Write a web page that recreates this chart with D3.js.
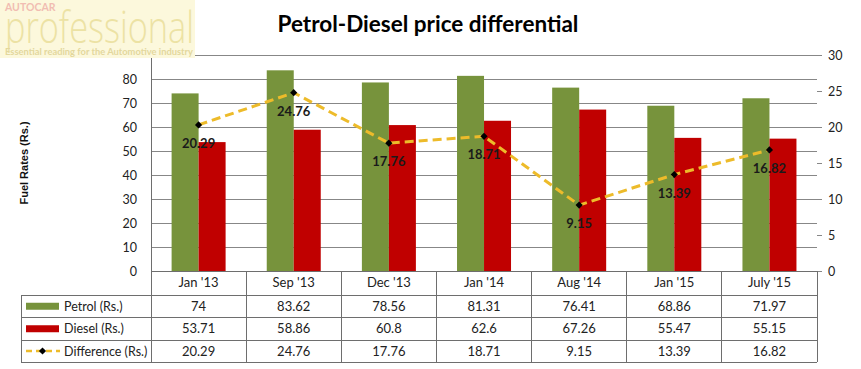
<!DOCTYPE html>
<html><head><meta charset="utf-8">
<script src="https://cdn.jsdelivr.net/npm/d3@7"></script>
<style>body{margin:0;background:#fff}svg{display:block}text{font-family:Lato,"Open Sans",sans-serif}</style>
</head><body><svg id="c" width="861" height="369"></svg>
<script>
const categories = ["Jan '13","Sep '13","Dec '13","Jan '14","Aug '14","Jan '15","July '15"];
const petrol = [74, 83.62, 78.56, 81.31, 76.41, 68.86, 71.97];
const diesel = [53.71, 58.86, 60.8, 62.6, 67.26, 55.47, 55.15];
const difference = [20.29, 24.76, 17.76, 18.71, 9.15, 13.39, 16.82];
const leftTicks = [0,10,20,30,40,50,60,70,80];
const rightTicks = [0,5,10,15,20,25,30];
const seriesNames = ["Petrol (Rs.)","Diesel (Rs.)","Difference (Rs.)"];

const svg = d3.select("#c");
const L = 151, R = 817, T = 55, B = 271;
const rowY = [295, 317.5, 340, 362];
const green = "#77933C", red = "#C00000", gold = "#EDBB2A", grid = "#878787";

const x = d3.scaleBand().domain(categories).range([L, R]).padding(0);
const x1 = d3.scaleBand().domain(["p","d"]).range([20.6, 74.6]).padding(0);
const yL = d3.scaleLinear().domain([0, 90]).range([B, T]);
const yR = d3.scaleLinear().domain([0, 30]).range([B, T]);

// gridlines
svg.append("g").selectAll("line").data(d3.range(0, 100, 10)).join("line")
  .attr("x1", L).attr("x2", R).attr("y1", d => yL(d)).attr("y2", d => yL(d))
  .attr("stroke", grid).attr("stroke-width", 1).attr("shape-rendering","crispEdges");

// left axis
const gl = svg.append("g").attr("transform", `translate(${L},0)`)
  .call(d3.axisLeft(yL).tickValues(leftTicks).tickSize(0).tickPadding(14));
gl.select(".domain").remove();
gl.selectAll("text").attr("font-size", 12.5).attr("fill", "#222").style("font-family","Lato,sans-serif");

// right axis
const gr = svg.append("g").attr("transform", `translate(${R},0)`)
  .call(d3.axisRight(yR).tickValues(rightTicks).tickSize(5).tickPadding(6));
gr.select(".domain").remove();
gr.selectAll("line").attr("stroke", grid).attr("shape-rendering","crispEdges");
gr.selectAll("text").attr("font-size", 12.5).attr("fill", "#222").style("font-family","Lato,sans-serif");

// bars
const bars = svg.append("g");
bars.selectAll("rect.p").data(petrol).join("rect").attr("class","p")
  .attr("x", (d,i) => x(categories[i]) + x1("p")).attr("width", x1.bandwidth())
  .attr("y", d => yL(d)).attr("height", d => B - yL(d)).attr("fill", green);
bars.selectAll("rect.d").data(diesel).join("rect").attr("class","d")
  .attr("x", (d,i) => x(categories[i]) + x1("d")).attr("width", x1.bandwidth())
  .attr("y", d => yL(d)).attr("height", d => B - yL(d)).attr("fill", red);

// difference line
const cx = (i) => x(categories[i]) + x.bandwidth()/2;
const line = d3.line().x((d,i) => cx(i)).y(d => yR(d));
svg.append("path").datum(difference).attr("d", line).attr("fill","none")
  .attr("stroke", gold).attr("stroke-width", 3).attr("stroke-dasharray","9,5");
svg.append("g").selectAll("path").data(difference).join("path")
  .attr("d", d3.symbol().type(d3.symbolSquare).size(26))
  .attr("transform", (d,i) => `translate(${cx(i)},${yR(d)}) rotate(45)`)
  .attr("fill", "#000");
svg.append("g").selectAll("text").data(difference).join("text")
  .attr("x", (d,i) => cx(i)).attr("y", d => yR(d) + 23)
  .attr("text-anchor","middle").attr("font-size", 13).attr("font-weight","bold")
  .attr("fill", "#1a1a1a").text(d => d);

// axis frame lines
const frame = svg.append("g").attr("stroke", "#6e6e6e").attr("stroke-width",1).attr("shape-rendering","crispEdges");
frame.append("line").attr("x1", L).attr("x2", L).attr("y1", T).attr("y2", rowY[3]);
frame.append("line").attr("x1", R).attr("x2", R).attr("y1", B).attr("y2", rowY[3]);
frame.append("line").attr("x1", L).attr("x2", R).attr("y1", B).attr("y2", B);
frame.selectAll("line.v").data(categories.slice(1)).join("line").attr("class","v")
  .attr("x1", d => x(d)).attr("x2", d => x(d)).attr("y1", B).attr("y2", rowY[3]);
frame.selectAll("line.h").data(rowY).join("line").attr("class","h")
  .attr("x1", 21).attr("x2", R).attr("y1", d => d).attr("y2", d => d);
frame.append("line").attr("x1", 21).attr("x2", 21).attr("y1", rowY[0]).attr("y2", rowY[3]);

// category labels
svg.append("g").selectAll("text").data(categories).join("text")
  .attr("x", d => x(d) + x.bandwidth()/2).attr("y", 287)
  .attr("text-anchor","middle").attr("font-size", 13).attr("fill","#222").text(d => d);

// table values
const rows = [petrol, diesel, difference];
rows.forEach((arr, r) => {
  const yc = (rowY[r] + rowY[r+1]) / 2 + 4.5;
  svg.append("g").selectAll("text").data(arr).join("text")
    .attr("x", (d,i) => cx(i)).attr("y", yc)
    .attr("text-anchor","middle").attr("font-size", 13).attr("fill","#222").text(d => d);
  svg.append("text").attr("x", 64).attr("y", yc).attr("font-size", 12.5).attr("fill","#222").text(seriesNames[r]);
});
// legend keys
const ly = r => (rowY[r] + rowY[r+1]) / 2;
svg.append("rect").attr("x", 26).attr("y", ly(0) - 3.5).attr("width", 33).attr("height", 7).attr("fill", green);
svg.append("rect").attr("x", 26).attr("y", ly(1) - 3.5).attr("width", 33).attr("height", 7).attr("fill", red);
svg.append("line").attr("x1", 26).attr("x2", 60).attr("y1", ly(2)).attr("y2", ly(2))
  .attr("stroke", gold).attr("stroke-width", 2.5).attr("stroke-dasharray","6,4");
svg.append("path").attr("d", d3.symbol().type(d3.symbolSquare).size(26))
  .attr("transform", `translate(42.5,${ly(2)}) rotate(45)`).attr("fill","#000");

// y title
svg.append("text").attr("transform", "translate(28,163) rotate(-90)")
  .attr("text-anchor","middle").attr("font-size", 11).attr("font-weight","bold")
  .attr("fill","#111").style("font-family","'Liberation Sans',Arial,sans-serif").text("Fuel Rates (Rs.)");

// title
svg.append("text").attr("x", 428).attr("y", 32).attr("text-anchor","middle")
  .attr("font-size", 22.5).attr("font-weight","bold").attr("fill","#000")
  .text("Petrol-Diesel price differential");

// logo
const logo = svg.append("g");
logo.append("rect").attr("x",0).attr("y",0).attr("width",195).attr("height",58).attr("fill","#fcf8dc");
logo.append("text").attr("x",5).attr("y",43).attr("font-size",44).attr("font-weight",300)
  .attr("fill","#ece2a4").attr("textLength",189).attr("lengthAdjust","spacingAndGlyphs")
  .style("font-family","'Open Sans',sans-serif").text("professional");
logo.append("text").attr("x",5).attr("y",11).attr("font-size",10.5).attr("font-weight","bold")
  .attr("fill","#f1bdb2").text("AUTOCAR");
logo.append("text").attr("x",5).attr("y",55).attr("font-size",9.5).attr("font-weight","bold")
  .attr("fill","#e3d79c").attr("textLength",188).attr("lengthAdjust","spacingAndGlyphs")
  .text("Essential reading for the Automotive industry");
</script></body></html>
